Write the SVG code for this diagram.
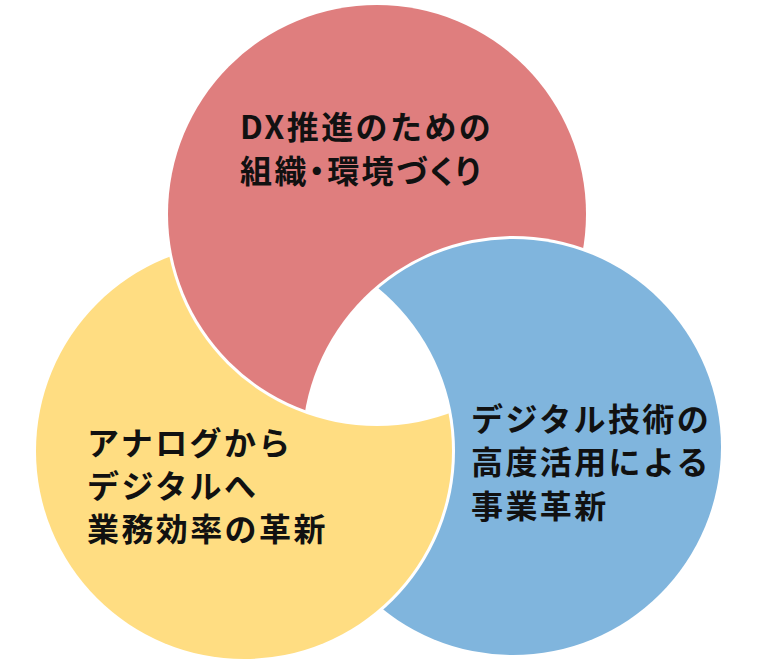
<svg xmlns="http://www.w3.org/2000/svg" width="759" height="671" viewBox="0 0 759 671">
  <style>
    .lbl { font-family: "Noto Sans CJK JP", "Noto Sans", sans-serif; font-weight: 700; font-size: 32px; letter-spacing: 2.4px; fill: #111; }
    .palt { font-feature-settings: "palt" 1; letter-spacing: 2.4px; }
  </style>
  <defs>
    <!-- each visible region = its circle minus the (slightly enlarged) circle that lies over it -->
    <mask id="m-red" maskUnits="userSpaceOnUse" x="0" y="0" width="759" height="671">
      <rect width="759" height="671" fill="#fff"/>
      <circle cx="513" cy="447" r="211" fill="#000"/>
    </mask>
    <mask id="m-yellow" maskUnits="userSpaceOnUse" x="0" y="0" width="759" height="671">
      <rect width="759" height="671" fill="#fff"/>
      <circle cx="377" cy="214" r="212" fill="#000"/>
    </mask>
    <mask id="m-blue" maskUnits="userSpaceOnUse" x="0" y="0" width="759" height="671">
      <rect width="759" height="671" fill="#fff"/>
      <circle cx="244" cy="451" r="211" fill="#000"/>
    </mask>
  </defs>
  <rect width="759" height="671" fill="#fff"/>
  <g id="connectors"/>
  <g id="node-blue">
    <circle cx="513" cy="447" r="208" fill="#80B5DD" mask="url(#m-blue)"/>
    <text class="lbl" x="471" y="431">デジタル技術の</text>
    <text class="lbl" x="471" y="474">高度活用による</text>
    <text class="lbl" x="471" y="518">事業革新</text>
  </g>
  <g id="node-yellow">
    <circle cx="244" cy="451" r="208" fill="#FFDD82" mask="url(#m-yellow)"/>
    <text class="lbl" x="87" y="455">アナログから</text>
    <text class="lbl" x="87" y="498">デジタルへ</text>
    <text class="lbl" x="87" y="541">業務効率の革新</text>
  </g>
  <g id="node-red">
    <circle cx="377" cy="214" r="209" fill="#DF7E7E" mask="url(#m-red)"/>
    <text class="lbl" x="240" y="139">DX推進のための</text>
    <text class="lbl palt" x="240" y="183">組織・環境づくり</text>
  </g>
</svg>
